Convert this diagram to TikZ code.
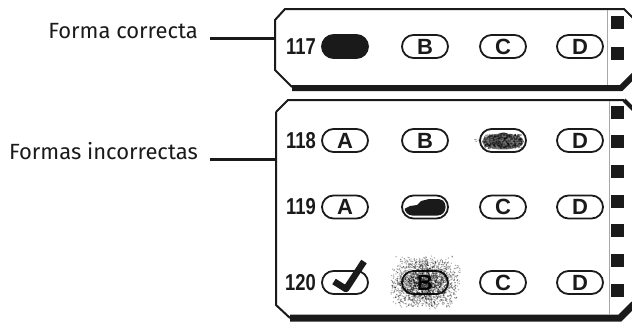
\documentclass[tikz,border=0pt]{standalone}
\usepackage{fontspec}
\setmainfont{Liberation Sans}
\newfontfamily\labelfont{Fira Sans}
\usepackage{xcolor}
\usetikzlibrary{positioning, calc}

\definecolor{ink}{HTML}{1A1A1A}
\definecolor{rulegray}{HTML}{A8A8A8}
\newcommand{\narrowed}[1]{\scalebox{0.8}[1]{#1}}

\begin{document}
\begin{tikzpicture}[x=1pt, y=-1pt,
    bubble/.style={draw=ink, line width=1.8pt, rounded corners=11.5pt, minimum width=46pt,
        minimum height=23pt, inner sep=0pt, text=ink, font=\fontsize{22}{22}\selectfont\bfseries},
    qnum/.style={anchor=east, inner sep=0pt, text=ink, font=\fontsize{23}{23}\selectfont\bfseries},
    lbl/.style={anchor=base east, inner sep=0pt, text=ink, font=\labelfont\fontsize{22}{22}\selectfont},
    leader/.style={draw=ink, line width=3pt},
    frame/.style={draw=ink, line width=2pt},
    base/.style={draw=ink, line width=6pt}]
    \useasboundingbox (0,0) rectangle (632,325);

    % cards
    \draw[frame] (634,19) -- (624,9) -- (285,9) -- (275,20) -- (275,70) -- (292,87);
    \draw[base] (292,88) -- (621,88) -- (634,75);
    \draw[frame] (276,112) -- (288,100) -- (624,100);
    \draw[draw=ink, line width=4pt] (624,100) -- (634,110);
    \draw[frame] (276,112) -- (276,305) -- (290,318);
    \draw[base, line width=7pt] (290,318) -- (620,318) -- (634,304);

    % timing marks
    \draw[rulegray, line width=1pt] (607,10) -- (607,85);
    \draw[rulegray, line width=1pt] (609,101) -- (609,315);
    \foreach \y in {22.5,53}
        \fill[ink] (611,\y-6.5) rectangle ++(13,13);
    \foreach \y in {112,141.7,171.3,201,230.7,260.3,290}
        \fill[ink] (611,\y-6.5) rectangle ++(13,13);

    % labels
    \node[lbl] (lbl-ok) at (198,38) {Forma correcta};
    \node[lbl] (lbl-bad) at (198,159) {Formas incorrectas};
    \coordinate (edge-ok) at (275,38);
    \coordinate (edge-bad) at (276,159);
    \draw[leader] ([xshift=12pt]lbl-ok.base east) -- (edge-ok);
    \draw[leader] ([xshift=12pt]lbl-bad.base east) -- (edge-bad);

    % question numbers
    \foreach \q/\y in {117/46.5, 118/140.5, 119/207, 120/282.5}
        \node[qnum] (q\q) at (316,\y) {\narrowed{\q}};

    % 117: correct
    \node[bubble, fill=ink] (a117) at (345,46.5) {};
    \node[bubble] (b117) at (425,46.5) {B};
    \node[bubble] (c117) at (503,46.5) {C};
    \node[bubble] (d117) at (580,46.5) {D};

    % 118
    \node[bubble] (a118) at (345,140.5) {A};
    \node[bubble] (b118) at (425,140.5) {B};
    \node[bubble] (c118) at (503,140.5) {C};
    \node[bubble] (d118) at (580,140.5) {D};
    \begin{scope}
        \clip[rounded corners=9pt] ($(c118.south west)+(2,-2)$) rectangle ($(c118.north east)+(-2,2)$);
        \fill[black!65, opacity=.85] ($(c118.center)+(0,1)$) ellipse (21 and 8);
    \end{scope}
    \begin{scope}[shift={(c118.center)}]
        \pgfmathsetseed{11}
        \foreach \i in {1,...,260}
            \fill[black, opacity=.45] (19*rand,7*rand+1) circle (0.9);
        \foreach \i in {1,...,12}
            \fill[black, opacity=.25] (-26+4*rand,2*rand) circle (0.6);
    \end{scope}

    % 119
    \node[bubble] (a119) at (345,207) {A};
    \node[bubble] (b119) at (425,207) {};
    \node[bubble] (c119) at (503,207) {C};
    \node[bubble] (d119) at (580,207) {D};
    \begin{scope}[shift={(b119.center)}]
        \clip[rounded corners=8pt] (-20.5,-8.5) rectangle (20.5,8.5);
        \fill[ink] (-21,2) -- (-15,-1) -- (-8,-2) -- (-4,-6) -- (4,-8) -- (14,-8)
            -- (22,-5) -- (22,10) -- (-22,10) -- cycle;
    \end{scope}

    % 120
    \node[bubble] (a120) at (345,282.5) {};
    \node[bubble] (b120) at (425,282.5) {B};
    \node[bubble] (c120) at (503,282.5) {C};
    \node[bubble] (d120) at (580,282.5) {D};
    \draw[ink, line width=6.5pt, line join=round] ([shift={(-11,-1)}]a120.center)
        -- ([shift={(1,6.5)}]a120.center) -- ([shift={(19,-21)}]a120.center);
    \begin{scope}[shift={(b120.center)}]
        \pgfmathsetseed{42}
        \foreach \i in {1,...,2400}{
            \pgfmathsetmacro\dx{36*(rnd+rnd-1)}
            \pgfmathsetmacro\dy{27*(rnd+rnd-1)}
            \fill[black, opacity=.36] (\dx,\dy) circle (0.7);
        }
    \end{scope}
\end{tikzpicture}
\end{document}
